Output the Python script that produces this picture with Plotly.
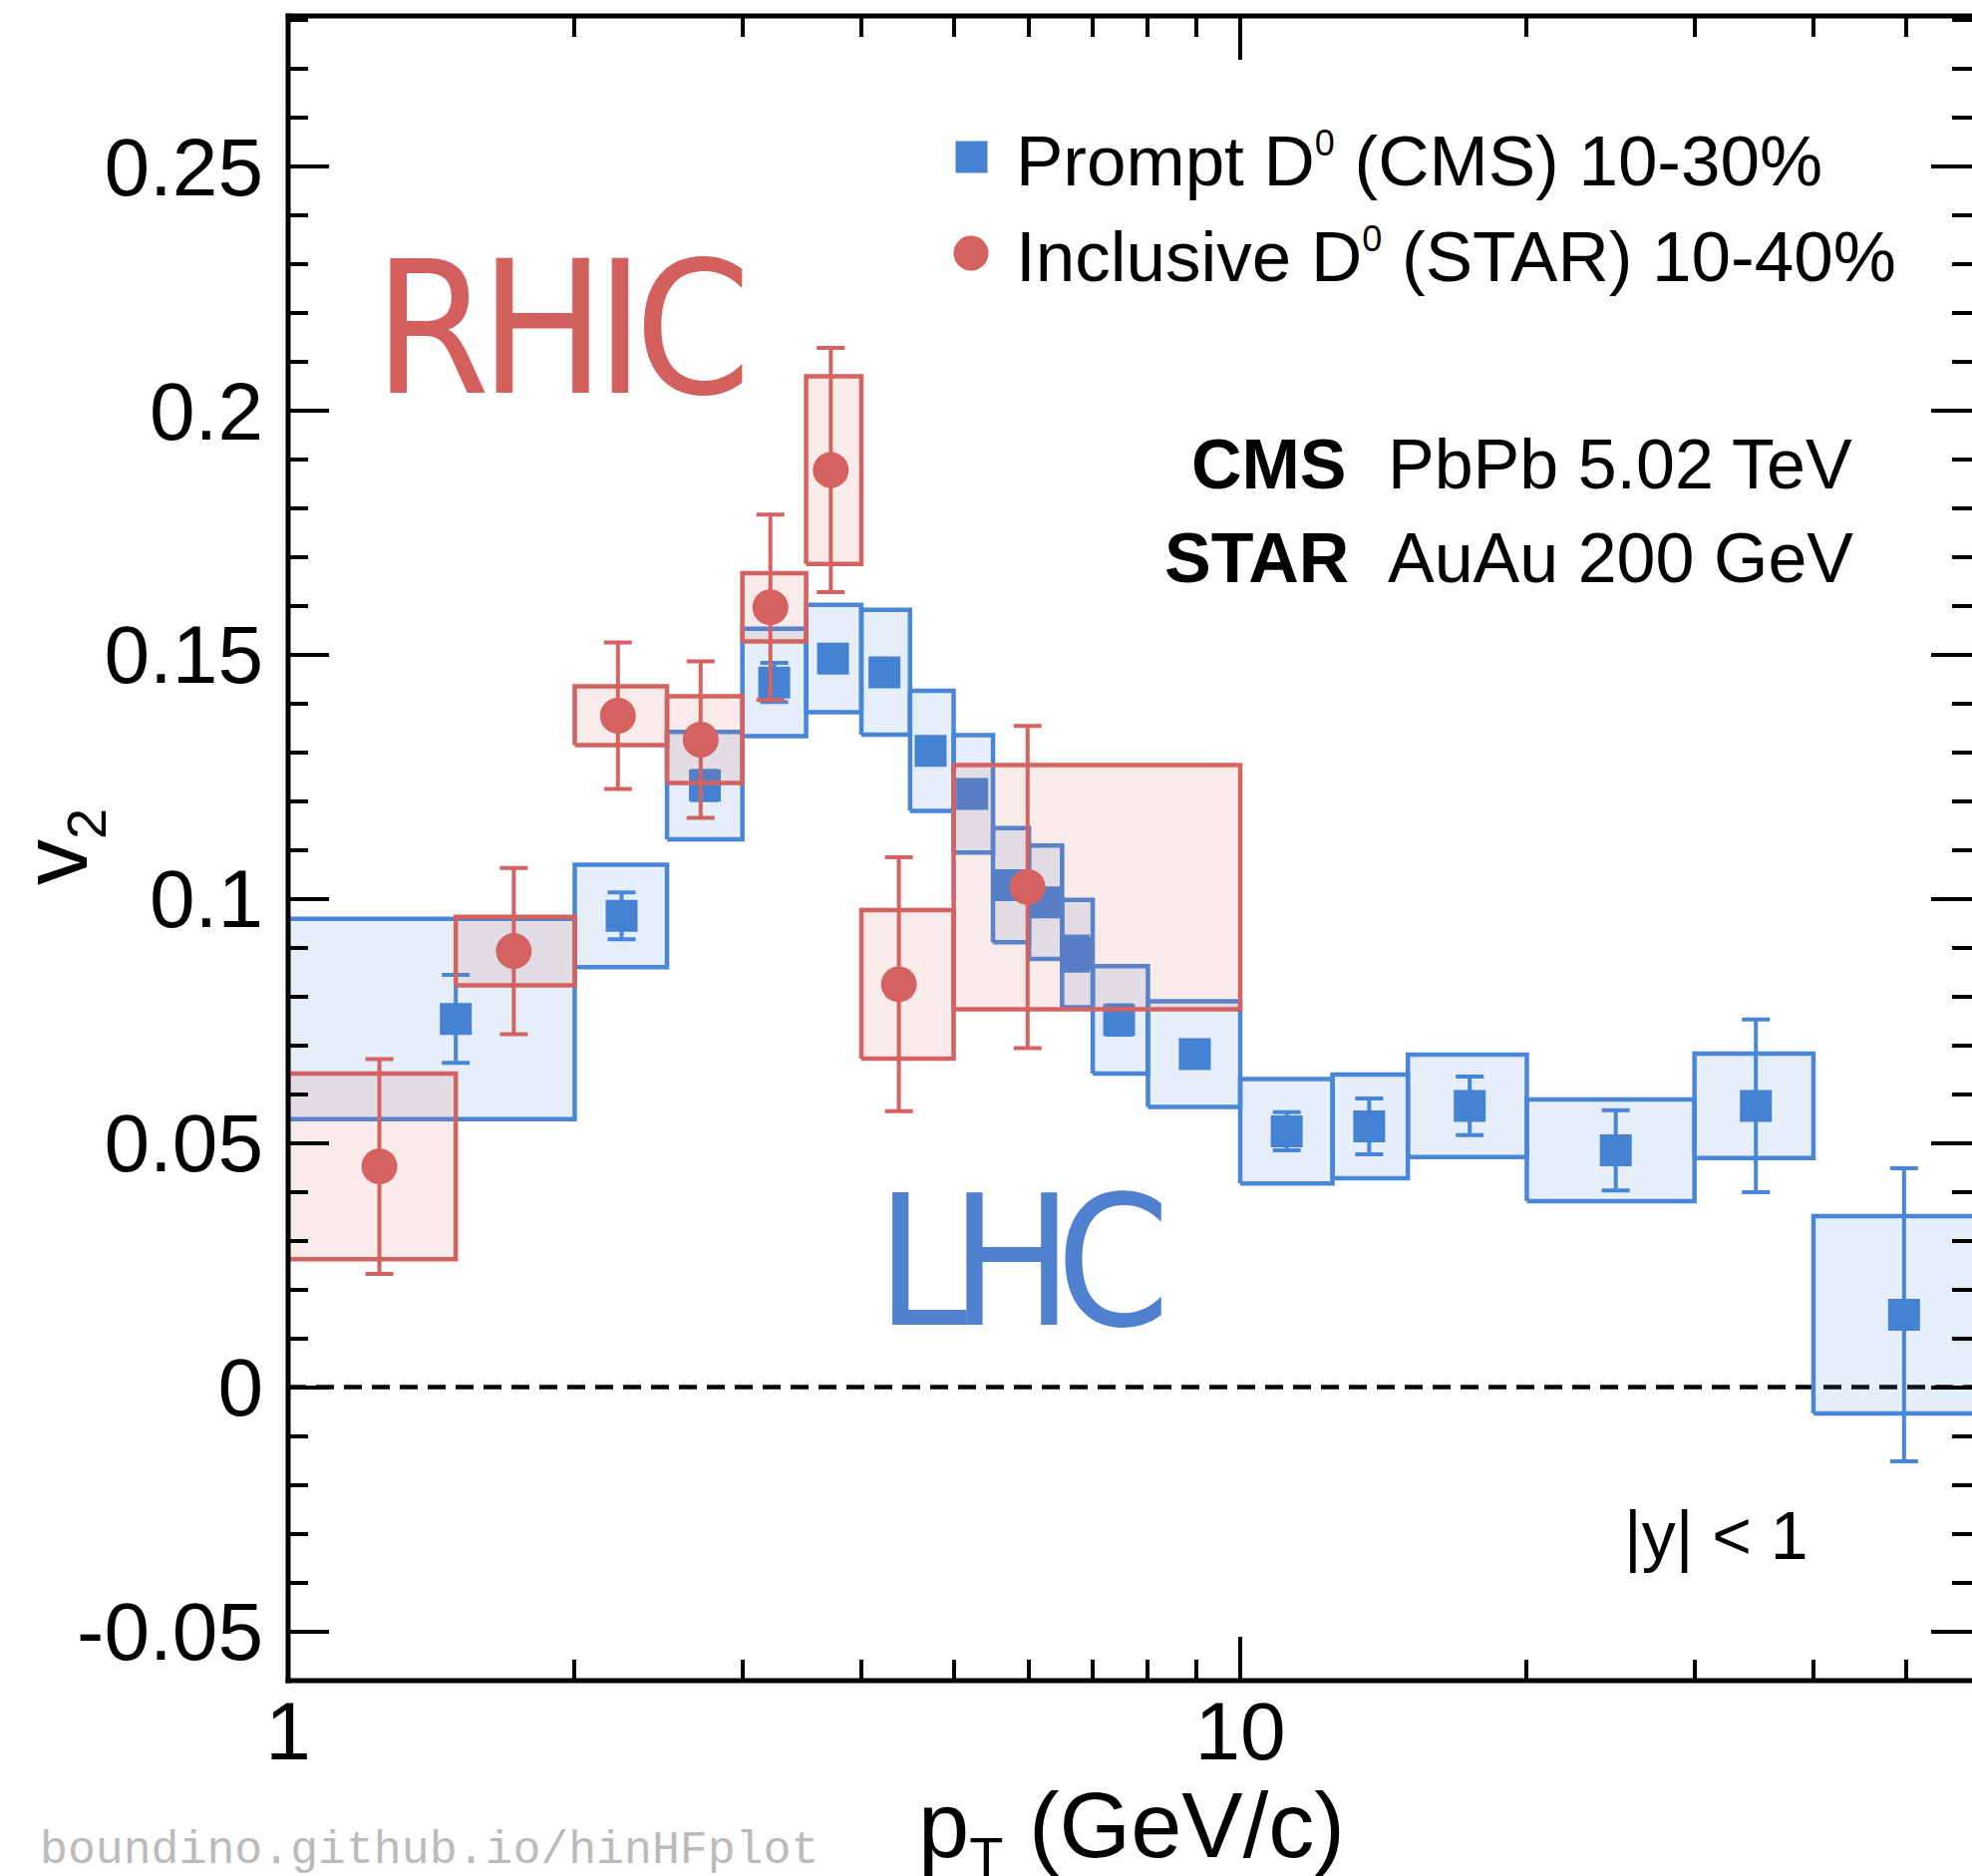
import math
import plotly.graph_objects as go

# ---------------- data ----------------
# CMS prompt D0, PbPb 5.02 TeV, 10-30%
cms_pt_lo = [1.0, 2.0, 2.5, 3.0, 3.5, 4.0, 4.5, 5.0, 5.5, 6.0, 6.5, 7.0, 8.0, 10.0, 12.5, 15.0, 20.0, 30.0, 40.0]
cms_pt_hi = [2.0, 2.5, 3.0, 3.5, 4.0, 4.5, 5.0, 5.5, 6.0, 6.5, 7.0, 8.0, 10.0, 12.5, 15.0, 20.0, 30.0, 40.0, 60.0]
cms_pt = [1.50, 2.24, 2.74, 3.24, 3.735, 4.23, 4.73, 5.23, 5.71, 6.22, 6.72, 7.46, 8.96, 11.19, 13.66, 17.42, 24.8, 34.8, 49.8]
cms_v2 = [0.0754, 0.0965, 0.1232, 0.1443, 0.1492, 0.1464, 0.1303, 0.1215, 0.1028, 0.0993, 0.0888, 0.0752, 0.0682,
          0.0524, 0.0534, 0.0576, 0.0485, 0.0576, 0.0148]
cms_stat = [0.009, 0.0048, 0.003, 0.004, 0.002, 0.002, 0.002, 0.002, 0.002, 0.0025, 0.0035, 0.003, 0.0025,
            0.0039, 0.0057, 0.006, 0.0082, 0.0177, 0.030]
cms_syst = [0.0205, 0.0105, 0.011, 0.011, 0.011, 0.0128, 0.0123, 0.012, 0.0117, 0.0116, 0.011, 0.011, 0.0108,
            0.0107, 0.0106, 0.0105, 0.0104, 0.0107, 0.0202]

# STAR inclusive D0, AuAu 200 GeV, 10-40%
star_pt_lo = [1.0, 1.5, 2.0, 2.5, 3.0, 3.5, 4.0, 5.0]
star_pt_hi = [1.5, 2.0, 2.5, 3.0, 3.5, 4.0, 5.0, 10.0]
star_pt = [1.247, 1.726, 2.22, 2.712, 3.21, 3.715, 4.38, 5.98]
star_v2 = [0.0452, 0.0893, 0.1375, 0.1326, 0.1597, 0.1878, 0.0825, 0.1024]
star_stat = [0.022, 0.017, 0.015, 0.016, 0.019, 0.025, 0.026, 0.033]
star_syst = [0.019, 0.007, 0.006, 0.0089, 0.007, 0.0192, 0.0152, 0.025]

x_major = [1, 10]
x_major_text = ["1", "10"]
x_minor = [2, 3, 4, 5, 6, 7, 8, 9, 20, 30, 40, 50]
y_major = [-0.05, 0, 0.05, 0.1, 0.15, 0.2, 0.25]
y_major_text = ["-0.05", "0", "0.05", "0.1", "0.15", "0.2", "0.25"]

# ---------------- style ----------------
BLUE = "#4682d4"
BLUE_LINE = "#4a86d8"
BLUE_FILL = "rgba(74,134,216,0.14)"
RED = "#d46260"
RED_FILL = "rgba(212,98,96,0.13)"
FONT = "Liberation Sans, Arial, Helvetica, sans-serif"

W, H = 1978, 1882
ML, MR, MT, MB = 289, 0, 16, 196
PW = W - ML - MR
PH = H - MT - MB


def xp(px):
    return (px - ML) / PW


def yp(py):
    return (H - MB - py) / PH


def box_path(lo, hi, v, s):
    xs, ys = [], []
    for a, b, c, e in zip(lo, hi, v, s):
        xs += [a, b, b, a, a, None]
        ys += [c - e, c - e, c + e, c + e, c - e, None]
    return xs, ys


fig = go.Figure()

bx, by = box_path(cms_pt_lo, cms_pt_hi, cms_v2, cms_syst)
fig.add_trace(go.Scatter(x=bx, y=by, mode="lines", fill="toself", fillcolor=BLUE_FILL,
                         line=dict(color=BLUE_LINE, width=4.5), hoverinfo="skip", showlegend=False))
fig.add_trace(go.Scatter(x=cms_pt, y=cms_v2, mode="markers",
                         marker=dict(symbol="square", size=32, color=BLUE, line=dict(width=0)),
                         error_y=dict(type="data", array=cms_stat, color=BLUE_LINE, thickness=4, width=14),
                         name="Prompt D0 (CMS) 10-30%", showlegend=False))

rx, ry = box_path(star_pt_lo, star_pt_hi, star_v2, star_syst)
fig.add_trace(go.Scatter(x=rx, y=ry, mode="lines", fill="toself", fillcolor=RED_FILL,
                         line=dict(color=RED, width=4.5), hoverinfo="skip", showlegend=False))
fig.add_trace(go.Scatter(x=star_pt, y=star_v2, mode="markers",
                         marker=dict(symbol="circle", size=36, color=RED, line=dict(width=0)),
                         error_y=dict(type="data", array=star_stat, color=RED, thickness=4, width=14),
                         name="Inclusive D0 (STAR) 10-40%", showlegend=False))

xmax_log = PW / 955.0

fig.update_layout(
    width=W, height=H,
    margin=dict(l=ML, r=MR, t=MT, b=MB, pad=0),
    paper_bgcolor="white", plot_bgcolor="white",
    font=dict(family=FONT, color="black", size=70),
    showlegend=False,
    xaxis=dict(type="log", range=[0, xmax_log], showgrid=False, zeroline=False,
               showline=False, mirror="ticks",
               ticks="inside", ticklen=44, tickwidth=3.5, tickcolor="black",
               tickmode="array", tickvals=x_major, ticktext=x_major_text,
               tickfont=dict(size=82, family=FONT), ticklabelstandoff=-4,
               minor=dict(tickmode="array", tickvals=x_minor, ticks="inside", ticklen=21,
                          tickwidth=3.5, tickcolor="black", showgrid=False)),
    yaxis=dict(range=[-0.0601, 0.2808], showgrid=False, zeroline=False,
               showline=False, mirror="ticks",
               ticks="inside", ticklen=41, tickwidth=3.5, tickcolor="black",
               tickmode="array", tickvals=y_major, ticktext=y_major_text,
               tickfont=dict(size=82, family=FONT), ticklabelstandoff=24,
               minor=dict(dtick=0.01, tick0=0, ticks="inside", ticklen=20,
                          tickwidth=3.5, tickcolor="black", showgrid=False)),
)

# zero line
fig.add_shape(type="line", xref="paper", yref="y", x0=0, x1=1, y0=0, y1=0,
              line=dict(color="black", width=4.5, dash="18px,10px"), layer="below")

# frame (left, bottom, top; right edge lies just outside the picture)
ex = 2.5 / PW
ey = 2.5 / PH
for x0, y0, x1, y1 in [(0, -ey, 0, 1 + ey), (-ex, 0, 1, 0), (-ex, 1, 1, 1)]:
    fig.add_shape(type="line", xref="paper", yref="paper", x0=x0, y0=y0, x1=x1, y1=y1,
                  line=dict(color="black", width=5), layer="above")

# legend symbols
fig.add_shape(type="rect", xref="paper", yref="paper", xsizemode="pixel", ysizemode="pixel",
              xanchor=xp(974.5), yanchor=yp(157.5), x0=-16, x1=16, y0=-16, y1=16,
              fillcolor=BLUE, line=dict(width=0))
fig.add_shape(type="circle", xref="paper", yref="paper", xsizemode="pixel", ysizemode="pixel",
              xanchor=xp(974), yanchor=yp(254), x0=-17.5, x1=17.5, y0=-17.5, y1=17.5,
              fillcolor=RED, line=dict(width=0))


def ann(text, px, py, size, xanchor="left", yanchor="middle", color="black", family=FONT, angle=0):
    fig.add_annotation(text=text, xref="paper", yref="paper", x=xp(px), y=yp(py),
                       xanchor=xanchor, yanchor=yanchor, showarrow=False, textangle=angle,
                       font=dict(size=size, color=color, family=family))


SUP0 = '<sup><span style="font-size:36px">0</span></sup>'
ann("Prompt D" + SUP0 + " (CMS) 10-30%", 1017, 162, 71)
ann("Inclusive D" + SUP0 + " (STAR) 10-40%", 1017, 257, 71)

ann("<b>CMS</b>", 1353, 466, 70, xanchor="right")
ann("PbPb 5.02 TeV", 1390, 466, 70)
ann("<b>STAR</b>", 1355, 560, 70, xanchor="right")
ann("AuAu 200 GeV", 1390, 560, 70)

ann("|y| < 1", 1627, 1540, 68)

HAND = "DejaVu Sans Condensed, DejaVu Sans, sans-serif"
ann('<span style="letter-spacing:-10px">RHIC</span>', 373, 330, 186, color="#d4605e", family=HAND)
ann('<span style="letter-spacing:-17px">LHC</span>', 877, 1266, 182, color="#5080d0", family=HAND)

# axis titles
ann('p<sub><span style="font-size:56px">T</span></sub> (GeV/c)', 1135, 1837, 92, xanchor="center")
ann('v<sub><span style="font-size:56px">2</span></sub>', 61, 850, 92, xanchor="center", angle=-90)

# watermark
ann("boundino.github.io/hinHFplot", 38, 1857, 46.5, color="#bbbbbb",
    family="Liberation Mono, Courier New, monospace")

fig.write_html("out.html")
